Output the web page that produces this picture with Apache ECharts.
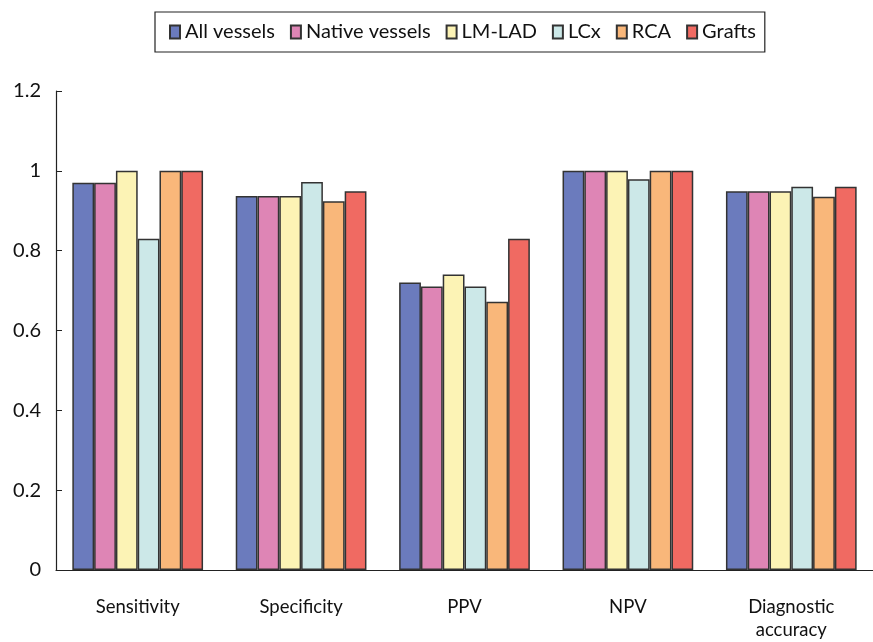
<!DOCTYPE html>
<html><head><meta charset="utf-8">
<script src="https://cdn.jsdelivr.net/npm/echarts@6/dist/echarts.min.js"></script>
<style>html,body{margin:0;padding:0;background:#fff}#c{width:873px;height:642px}</style>
</head><body><div id="c"></div>
<script>
const categories = ['Sensitivity', 'Specificity', 'PPV', 'NPV', 'Diagnostic\naccuracy'];
const seriesNames = ['All vessels', 'Native vessels', 'LM-LAD', 'LCx', 'RCA', 'Grafts'];
const allVessels = [0.97, 0.937, 0.72, 1.0, 0.949];
const nativeVessels = [0.97, 0.937, 0.71, 1.0, 0.949];
const lmLad = [1.0, 0.937, 0.74, 1.0, 0.949];
const lcx = [0.83, 0.972, 0.71, 0.979, 0.96];
const rca = [1.0, 0.924, 0.672, 1.0, 0.935];
const grafts = [1.0, 0.949, 0.83, 1.0, 0.96];
const yTicks = [0, 0.2, 0.4, 0.6, 0.8, 1, 1.2];
const colors = ['#6b7bbd', '#de85b5', '#fcf3b5', '#cce8e8', '#f9b77a', '#f06a62'];
const values = [allVessels, nativeVessels, lmLad, lcx, rca, grafts];

const font = 'Lato, "Noto Sans", sans-serif';
const chart = echarts.init(document.getElementById('c'), null, {renderer: 'canvas'});
chart.setOption({
  animation: false,
  color: colors,
  textStyle: {fontFamily: font},
  legend: {
    left: 155, top: 12, width: 720,
    borderColor: '#222', borderWidth: 1.2,
    padding: [9, 9, 9, 14],
    itemWidth: 10, itemHeight: 13, itemGap: 15,
    textStyle: {fontSize: 20, color: '#111', fontFamily: font, lineHeight: 22},
    icon: 'rect',
    data: seriesNames
  },
  grid: {left: 56, top: 91, width: 819, height: 486, containLabel: false},
  xAxis: {
    type: 'category', data: categories,
    axisLine: {lineStyle: {color: '#222', width: 1.2}},
    axisTick: {inside: true, length: 6, lineStyle: {color: '#222'}},
    axisLabel: {fontSize: 18.5, color: '#111', margin: 26, lineHeight: 23, fontFamily: font}
  },
  yAxis: {
    type: 'value', min: 0, max: 1.2, interval: 0.2,
    axisLine: {show: true, lineStyle: {color: '#222', width: 1.2}},
    axisTick: {show: true, inside: true, length: 6, lineStyle: {color: '#222'}},
    splitLine: {show: false},
    axisLabel: {fontSize: 20, color: '#111', margin: 15, fontFamily: font,
      formatter: v => { const t = yTicks.find(x => Math.abs(x - v) < 1e-9); return t === undefined ? '' : String(t); }}
  },
  series: seriesNames.map((n, i) => ({
    name: n, type: 'bar', data: values[i],
    barGap: '0%', barCategoryGap: '20%',
    itemStyle: {color: colors[i], borderColor: '#333', borderWidth: 1.5}
  }))
});
</script></body></html>
